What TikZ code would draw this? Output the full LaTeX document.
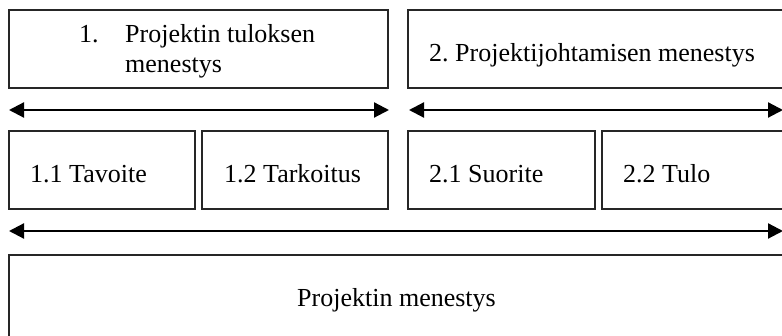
\documentclass[tikz,border=0pt]{standalone}
\usepackage{fontspec}
\setmainfont{Liberation Serif}
\usetikzlibrary{arrows.meta}
\frenchspacing
\begin{document}
\begin{tikzpicture}[x=1pt,y=-1pt,
  box/.style={draw=black!85, line width=1.3pt, inner sep=0pt},
  lbl/.style={anchor=base west, inner sep=0pt, font=\fontsize{26pt}{30pt}\selectfont},
  twoway/.style={line width=2.2pt, {Triangle[length=15pt,width=15pt]}-{Triangle[length=15pt,width=15pt]}, shorten <=-1pt, shorten >=-1pt}]
\useasboundingbox (0,0) rectangle (782,336);
\clip (0,0) rectangle (782,336);

% top level boxes
\node[box, minimum width=379pt, minimum height=78pt] (tulos) at (198.5,49) {};
\node[box, minimum width=392pt, minimum height=78pt] (johto) at (604,49) {};
% second level boxes
\node[box, minimum width=186pt, minimum height=78pt] (tavoite) at (102,170) {};
\node[box, minimum width=186pt, minimum height=78pt] (tarkoitus) at (295,170) {};
\node[box, minimum width=187pt, minimum height=78pt] (suorite) at (501.5,170) {};
\node[box, minimum width=198pt, minimum height=78pt] (tulo) at (701,170) {};
% overall box
\node[box, minimum width=791pt, minimum height=95pt] (kokonais) at (404.5,302.5) {};

% labels
\node[lbl] (n1) at (79,43) {1.};
\node[lbl] (t1a) at (125,43) {Projektin tuloksen};
\node[lbl] (t1b) at (125,73) {menestys};
\node[lbl] (t2) at (429,62) {2. Projektijohtamisen menestys};
\node[lbl] (t11) at (30,183) {1.1 Tavoite};
\node[lbl] (t12) at (224,183) {1.2 Tarkoitus};
\node[lbl] (t21) at (429,183) {2.1 Suorite};
\node[lbl] (t22) at (623,183) {2.2 Tulo};
\node[lbl] (t0) at (297,307) {Projektin menestys};

% arrow end points
\coordinate (a1l) at (10,110);
\coordinate (a1r) at (388,110);
\coordinate (a2l) at (410,110);
\coordinate (a2r) at (782,110);
\coordinate (a3l) at (10,231);
\coordinate (a3r) at (782,231);

\draw[twoway] (a1l) -- (a1r);
\draw[twoway] (a2l) -- (a2r);
\draw[twoway] (a3l) -- (a3r);
\end{tikzpicture}
\end{document}
